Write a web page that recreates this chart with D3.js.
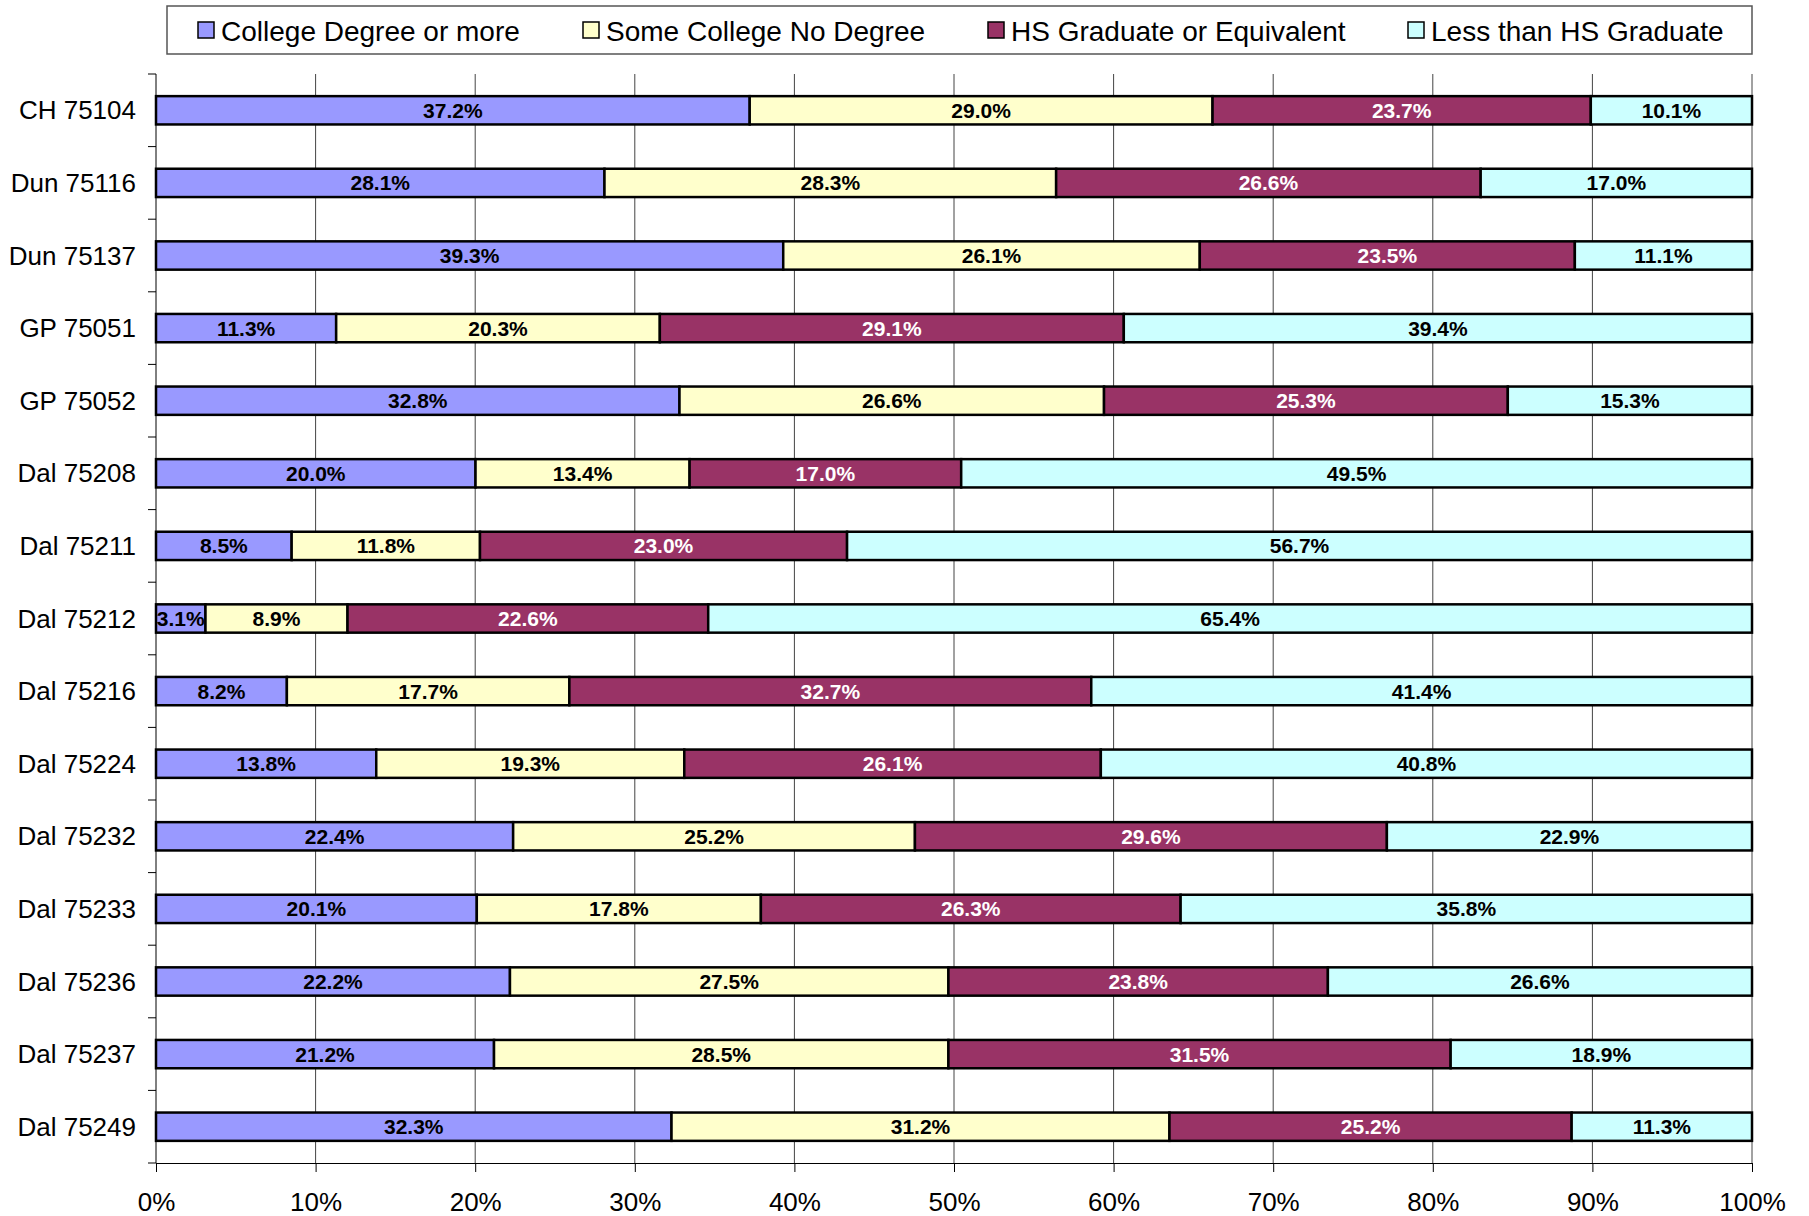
<!DOCTYPE html>
<html lang="en">
<head>
    <meta charset="UTF-8">
    <title>Educational attainment by zip code</title>
    <script src="https://d3js.org/d3.v7.min.js"></script>
    <style>
        body { margin: 0; background: #fff; }
        svg { font-family: "Liberation Sans", Arial, sans-serif; }
        .seg { stroke: #000; stroke-width: 2.5; }
        .lbl { font-size: 21px; font-weight: bold; text-anchor: middle; dominant-baseline: central; }
        .axis text { font-size: 26px; fill: #000; }
        .axis path, .axis line { stroke: #000; }
        .grid line { stroke: #444; stroke-width: 1; }
    </style>
</head>
<body>
<div id="chart"></div>
<script>
    // data (percent)
    const categories = ["CH 75104", "Dun 75116", "Dun 75137", "GP 75051", "GP 75052", "Dal 75208", "Dal 75211",
        "Dal 75212", "Dal 75216", "Dal 75224", "Dal 75232", "Dal 75233", "Dal 75236", "Dal 75237", "Dal 75249"];
    const college     = [37.2, 28.1, 39.3, 11.3, 32.8, 20.0, 8.5, 3.1, 8.2, 13.8, 22.4, 20.1, 22.2, 21.2, 32.3];
    const someCollege = [29.0, 28.3, 26.1, 20.3, 26.6, 13.4, 11.8, 8.9, 17.7, 19.3, 25.2, 17.8, 27.5, 28.5, 31.2];
    const hsGrad      = [23.7, 26.6, 23.5, 29.1, 25.3, 17.0, 23.0, 22.6, 32.7, 26.1, 29.6, 26.3, 23.8, 31.5, 25.2];
    const lessHS      = [10.1, 17.0, 11.1, 39.4, 15.3, 49.5, 56.7, 65.4, 41.4, 40.8, 22.9, 35.8, 26.6, 18.9, 11.3];
    const seriesNames = ["College Degree or more", "Some College No Degree", "HS Graduate or Equivalent", "Less than HS Graduate"];
    const seriesColors = ["#9999FF", "#FFFFCC", "#993366", "#CCFFFF"];
    const labelColors = ["#000", "#000", "#fff", "#000"];
    const xTicks = [0, 0.1, 0.2, 0.3, 0.4, 0.5, 0.6, 0.7, 0.8, 0.9, 1];

    const W = 1809, H = 1216;
    const margin = { top: 74, right: 57, bottom: 53, left: 156 };
    const width = W - margin.left - margin.right;
    const height = H - margin.top - margin.bottom;

    const allSeries = [college, someCollege, hsGrad, lessHS];
    const rows = categories.map((c, i) => {
        const r = { cat: c };
        seriesNames.forEach((s, k) => r[s] = allSeries[k][i]);
        return r;
    });

    // 100% stacked: normalize each row
    const stacked = d3.stack().keys(seriesNames).offset(d3.stackOffsetExpand)(rows);

    const svg = d3.select("#chart").append("svg")
        .attr("width", W).attr("height", H);
    const g = svg.append("g").attr("transform", `translate(${margin.left},${margin.top})`);

    const x = d3.scaleLinear().domain([0, 1]).range([0, width]);
    const y = d3.scaleBand().domain(categories).range([0, height]).paddingInner(0.61).paddingOuter(0.305);
    const yb = d3.scaleBand().domain(categories).range([0, height]);

    // vertical gridlines
    g.append("g").attr("class", "grid")
        .selectAll("line").data(xTicks.slice(1)).enter().append("line")
        .attr("x1", d => x(d)).attr("x2", d => x(d))
        .attr("y1", 0).attr("y2", height);

    // x axis
    const xAxis = g.append("g").attr("class", "axis")
        .attr("transform", `translate(0,${height})`)
        .call(d3.axisBottom(x).tickValues(xTicks).tickFormat(d3.format(".0%")).tickSize(9).tickPadding(21));
    xAxis.select(".domain").attr("stroke-width", 1);

    // y axis: ticks sit between categories
    g.append("line").attr("x1", 0).attr("x2", 0).attr("y1", 0).attr("y2", height).attr("stroke", "#000");
    g.append("g").selectAll("line").data(d3.range(categories.length + 1)).enter().append("line")
        .attr("x1", -8).attr("x2", 0)
        .attr("y1", i => i * yb.step()).attr("y2", i => i * yb.step())
        .attr("stroke", "#000");
    g.append("g").attr("class", "axis").selectAll("text").data(categories).enter().append("text")
        .attr("x", -20)
        .attr("y", d => yb(d) + yb.bandwidth() / 2)
        .attr("text-anchor", "end")
        .attr("dominant-baseline", "central")
        .text(d => d);

    // bars
    stacked.forEach((layer, k) => {
        const lg = g.append("g");
        lg.selectAll("rect").data(layer).enter().append("rect")
            .attr("class", "seg")
            .attr("fill", seriesColors[k])
            .attr("x", d => x(d[0]))
            .attr("width", d => x(d[1]) - x(d[0]))
            .attr("y", d => y(d.data.cat))
            .attr("height", y.bandwidth());
        lg.selectAll("text").data(layer).enter().append("text")
            .attr("class", "lbl")
            .attr("fill", labelColors[k])
            .attr("x", d => (x(d[0]) + x(d[1])) / 2)
            .attr("y", d => y(d.data.cat) + y.bandwidth() / 2)
            .text(d => d.data[layer.key].toFixed(1) + "%");
    });

    // legend
    const legend = svg.append("g");
    legend.append("rect")
        .attr("x", 167).attr("y", 6).attr("width", 1585).attr("height", 48)
        .attr("fill", "#fff").attr("stroke", "#555").attr("stroke-width", 1.5);
    const legX = [198, 583, 988, 1408];
    seriesNames.forEach((s, k) => {
        legend.append("rect")
            .attr("x", legX[k]).attr("y", 22).attr("width", 16).attr("height", 16)
            .attr("fill", seriesColors[k]).attr("stroke", "#000").attr("stroke-width", 1.5);
        legend.append("text")
            .attr("x", legX[k] + 23).attr("y", 31)
            .attr("dominant-baseline", "central")
            .attr("font-size", 28)
            .text(s);
    });
</script>
</body>
</html>
